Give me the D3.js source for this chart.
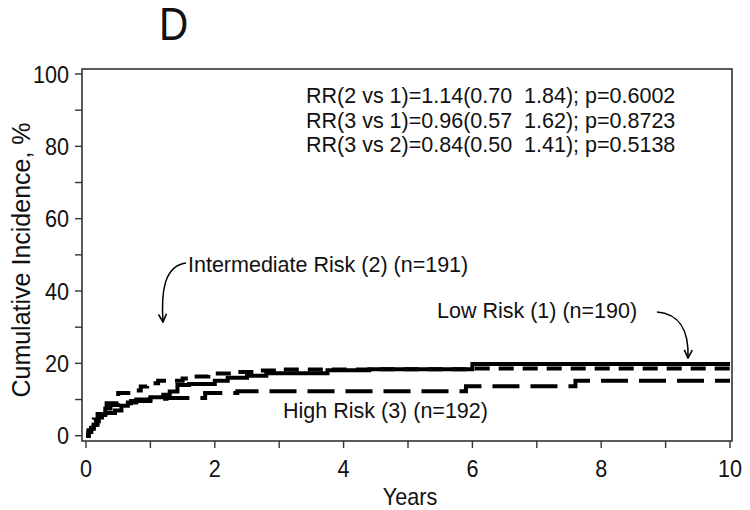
<!DOCTYPE html>
<html><head><meta charset="utf-8">
<script src="https://cdn.jsdelivr.net/npm/d3@7"></script>
<style>body{margin:0;background:#fff}svg{display:block}text{font-family:"Liberation Sans",Arial,sans-serif;fill:#111}</style>
</head><body><svg id="c" width="750" height="510"></svg>
<script>
// Data (years, cumulative incidence %)
const lowRiskYears = [0,0.04,0.08,0.12,0.16,0.2,0.25,0.3,0.45,0.55,0.65,0.78,1.0,1.2,1.3,1.42,1.6,2.0,2.2,2.5,2.8,3.75,4.4,6.0,10];
const lowRiskPct   = [0,1,2,3,4,5,5.7,6.3,7.0,8.3,9.2,10,10.6,11.3,12.2,14,14.3,15.2,16,16.6,17.3,18.1,18.4,19.8,19.8];
const interYears = [0,0.04,0.08,0.12,0.18,0.25,0.32,0.5,0.75,0.85,0.95,1.12,1.5,1.65,1.9,2.3,2.6,3.0,4.5,6.0,10];
const interPct   = [0,1.5,3,4.5,6,7.8,9,11.8,12.5,13.6,14.5,15.2,15.8,16.4,17.2,17.6,18,18.3,18.4,18.6,18.6];
const highYears = [0,0.04,0.08,0.12,0.18,0.24,0.3,0.38,0.5,0.7,1.0,1.25,1.85,2.35,5.9,7.6,10];
const highPct   = [0,1,2,3,4.5,6,7.5,8.5,9,9.6,10.2,10.4,11.8,12.3,13.7,15.2,15.2];
const xTicks = [0,2,4,6,8,10];
const yTicks = [0,20,40,60,80,100];
const rrLines = ["RR(2 vs 1)=1.14(0.70\u00a0\u00a01.84); p=0.6002","RR(3 vs 1)=0.96(0.57\u00a0\u00a01.62); p=0.8723","RR(3 vs 2)=0.84(0.50\u00a0\u00a01.41); p=0.5138"];

const svg = d3.select("#c");
const x = d3.scaleLinear().domain([0,10]).range([86,730]);
const y = d3.scaleLinear().domain([0,100]).range([435.7,74]);

// box
svg.append("rect").attr("x",82).attr("y",69).attr("width",650).attr("height",372)
  .attr("fill","none").attr("stroke","#333").attr("stroke-width",1.6);

function condText(g, tx, ty, txt, size, anchor, sx){
  return g.append("text").attr("transform",`translate(${tx},${ty}) scale(${sx},1)`)
    .attr("text-anchor",anchor).attr("font-size",size).text(txt);
}

// y axis ticks
const yAx = svg.append("g");
d3.range(0,101,10).forEach(v=>{
  yAx.append("line").attr("x1",75).attr("x2",82).attr("y1",y(v)).attr("y2",y(v)).attr("stroke","#333").attr("stroke-width",1.4);
});
yTicks.forEach(v=>{ condText(yAx, 69, y(v)+8.5, v, 24, "end", 0.9); });
const xAx = svg.append("g");
d3.range(0,11,1).forEach(v=>{
  xAx.append("line").attr("x1",x(v)).attr("x2",x(v)).attr("y1",441).attr("y2",448).attr("stroke","#333").attr("stroke-width",1.4);
});
xTicks.forEach(v=>{ condText(xAx, x(v), 477, v, 24, "middle", 0.9); });
condText(svg, 410, 505, "Years", 24, "middle", 0.9);
svg.append("text").attr("transform","translate(30,260) rotate(-90)").attr("text-anchor","middle").attr("font-size",25).text("Cumulative Incidence, %");
condText(svg, 159, 40, "D", 46, "start", 0.88);

// curves
const line = d3.line().x(d=>x(d[0])).y(d=>y(d[1])).curve(d3.curveStepAfter);
const series = [
  {xs:lowRiskYears, ys:lowRiskPct, dash:null},
  {xs:interYears, ys:interPct, dash:"15,9"},
  {xs:highYears, ys:highPct, dash:"27,11"}
];
series.forEach(s=>{
  svg.append("path").datum(s.xs.map((v,i)=>[v,s.ys[i]])).attr("d",line)
    .attr("fill","none").attr("stroke","#000").attr("stroke-width",4)
    .attr("stroke-dasharray",s.dash);
});

// RR text
rrLines.forEach((t,i)=>{
  svg.append("text").attr("x",306).attr("y",103+i*24.5).attr("font-size",21.5).text(t);
});
svg.append("text").attr("x",188).attr("y",272).attr("font-size",21.5).text("Intermediate Risk (2) (n=191)");
svg.append("text").attr("x",437).attr("y",318).attr("font-size",21.5).text("Low Risk (1) (n=190)");
svg.append("text").attr("x",283).attr("y",418).attr("font-size",21.5).text("High Risk (3) (n=192)");

// arrows
svg.append("defs").append("marker").attr("id","ah").attr("viewBox","0 0 10 10").attr("refX",9).attr("refY",5)
  .attr("markerWidth",10).attr("markerHeight",10).attr("markerUnits","userSpaceOnUse").attr("orient","auto")
  .append("path").attr("d","M1,1 L9,5 L1,9").attr("fill","none").attr("stroke","#000").attr("stroke-width",1.6);
svg.append("path").attr("d","M186,263 C164,266 161,292 163,322").attr("fill","none").attr("stroke","#000").attr("stroke-width",1.5).attr("marker-end","url(#ah)");
svg.append("path").attr("d","M657,312 C680,314 689,330 688,358").attr("fill","none").attr("stroke","#000").attr("stroke-width",1.5).attr("marker-end","url(#ah)");
</script></body></html>
